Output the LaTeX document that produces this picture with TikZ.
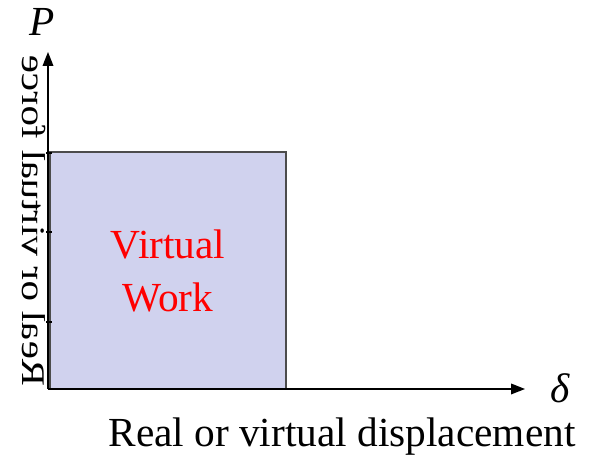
\documentclass[tikz,border=0pt]{standalone}
\usepackage{fontspec}
\setmainfont{Liberation Serif}
\usepackage{graphicx}
\usetikzlibrary{arrows.meta}
\definecolor{workfill}{RGB}{208,210,238}
\definecolor{workred}{RGB}{255,0,0}

\begin{document}
\begin{tikzpicture}[x=0.75pt, y=0.75pt,
	axis/.style={line width=1.1pt, -{Triangle[length=10.5pt,width=8pt]}},
	big/.style={font=\fontsize{31}{40}\selectfont, inner sep=0pt}]
	\useasboundingbox (0,0) rectangle (604,459);
	\node[big] (cut) at (285,476) {p};
	\coordinate (origin) at (48,70);
	\coordinate (ytop) at (48,407);
	\coordinate (xend) at (525,70);
	\filldraw[fill=workfill, draw=black!70, line width=0.8pt] (50,70) rectangle (286,307);
	\draw[axis] (origin) -- (ytop);
	\draw[axis] (origin) -- (xend);
	\foreach \y in {137,227,306}
		\draw[line width=0.8pt] (46,\y) -- (52,\y);
	\node[big] (pl) at (42,437) {\textit{P}};
	\node[big] (dl) at (560,71) {\textit{δ}};
	\node[big, text=workred, align=center] (vw) at (168,188) {Virtual\\Work};
	\node[big, anchor=base] (xl) at (342,12) {Real or virtual displacement};
	% mirrored vertical label, as in the source slide
	\node[big, rotate=90] (yl) at (34,238) {\scalebox{0.99}[-0.8]{Real or virtual force}};
\end{tikzpicture}
\end{document}
